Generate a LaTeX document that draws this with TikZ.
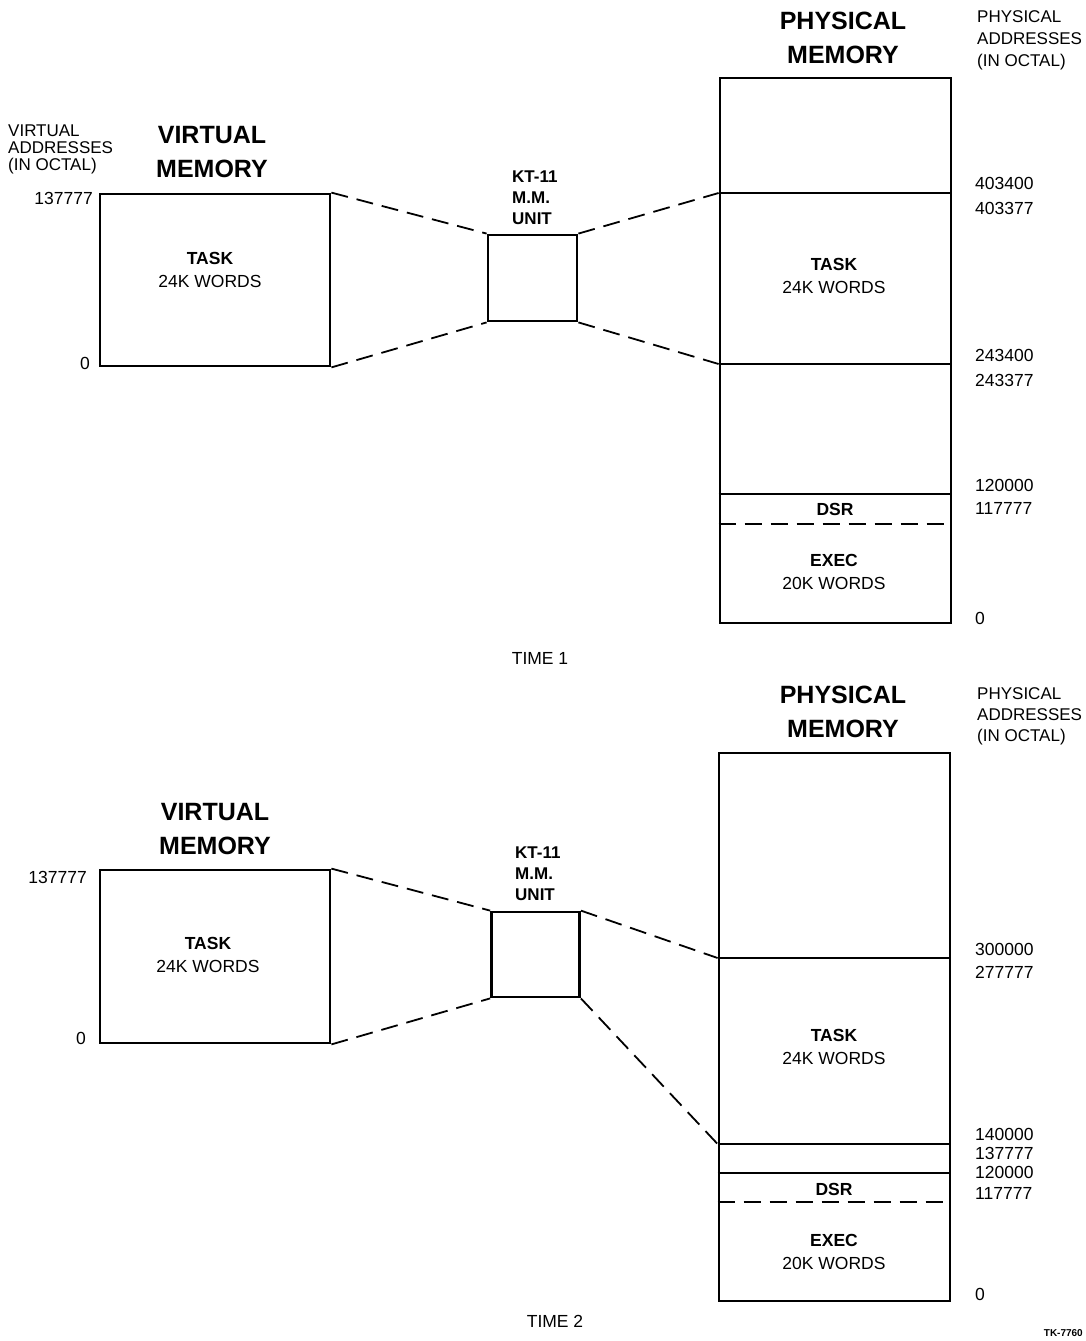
\documentclass[tikz,border=0pt]{standalone}
\usepackage{fontspec}
\setmainfont{Liberation Sans}
\usetikzlibrary{positioning}
\tikzset{
    mem/.style={draw, line width=2.8pt, inner sep=0pt},
    mmu/.style={mem, minimum width=89pt, minimum height=86pt},
    part/.style={line width=1.6pt},
    link/.style={dash pattern=on 17pt off 9pt, line width=1.8pt},
    txt/.style={font=\fontsize{17.5}{23}\selectfont, align=center, inner sep=0pt},
    addr/.style={txt, anchor=west},
    heading/.style={font=\fontsize{25}{34}\selectfont\bfseries,
                    align=center, inner sep=0pt},
}

\begin{document}
\begin{tikzpicture}[x=1pt, y=-1pt]
    \useasboundingbox (0,0) rectangle (1085,1341);

    % time 1
    \node[txt, align=left, anchor=west, font=\fontsize{17}{17}\selectfont]
        (vhead1) at (8,149) {VIRTUAL\\ADDRESSES\\(IN OCTAL)};
    \node[heading] (vtitle1) at (212,152) {VIRTUAL\\MEMORY};
    \node[mem, minimum width=230pt, minimum height=172pt] (virt1) at (215,280) {};
    \node[txt] (vtask1) at (210,270) {\textbf{TASK}\\24K WORDS};
    \node[txt, anchor=east] (vtop1) at (93,198) {137777};
    \node[txt, anchor=east] (vbot1) at (90,363) {0};

    \node[mmu] (mmu1) at (532.5,278) {};
    \node[txt, align=left, anchor=west, font=\fontsize{17}{21}\selectfont\bfseries]
        (kt1) at (512,198) {KT-11\\M.M.\\UNIT};

    \node[heading] (ptitle1) at (843,38) {PHYSICAL\\MEMORY};
    \node[txt, align=left, anchor=west, font=\fontsize{17}{22}\selectfont]
        (phead1) at (977,40) {PHYSICAL\\ADDRESSES\\(IN OCTAL)};
    \node[mem, minimum width=231pt, minimum height=545pt] (phys1) at (835.5,350.5) {};
    \path (phys1.west |- 0,193) coordinate (p1a) (phys1.east |- 0,193) coordinate (p1b)
          (phys1.west |- 0,364) coordinate (p1c) (phys1.east |- 0,364) coordinate (p1d)
          (phys1.west |- 0,494) coordinate (p1e) (phys1.east |- 0,494) coordinate (p1f)
          (phys1.west |- 0,524) coordinate (p1g) (phys1.east |- 0,524) coordinate (p1h);
    \draw[part] (p1a) -- (p1b);
    \draw[part] (p1c) -- (p1d);
    \draw[part] (p1e) -- (p1f);
    \draw[part, link, line width=1.6pt] (p1g) -- (p1h);
    \node[txt] (ptask1) at (834,276) {\textbf{TASK}\\24K WORDS};
    \node[txt] (dsr1) at (835,509) {\textbf{DSR}};
    \node[txt] (exec1) at (834,572) {\textbf{EXEC}\\20K WORDS};

    \node[addr] (a1) at (975,183) {403400};
    \node[addr] (a2) at (975,208) {403377};
    \node[addr] (a3) at (975,355) {243400};
    \node[addr] (a4) at (975,380) {243377};
    \node[addr] (a5) at (975,485) {120000};
    \node[addr] (a6) at (975,508) {117777};
    \node[addr] (a7) at (975,618) {0};

    \draw[link] (virt1.north east) -- (mmu1.north west);
    \draw[link] (virt1.south east) -- (mmu1.south west);
    \draw[link] (mmu1.north east) -- (p1a);
    \draw[link] (mmu1.south east) -- (p1c);

    \node[txt] (time1) at (540,658) {TIME 1};

    % time 2
    \node[heading] (vtitle2) at (215,829) {VIRTUAL\\MEMORY};
    \node[mem, minimum width=230pt, minimum height=173pt] (virt2) at (215,956.5) {};
    \node[txt] (vtask2) at (208,955) {\textbf{TASK}\\24K WORDS};
    \node[txt, anchor=east] (vtop2) at (87,877) {137777};
    \node[txt, anchor=east] (vbot2) at (86,1038) {0};

    \node[mmu, minimum width=88pt, minimum height=85pt] (mmu2) at (535.5,954.5) {};
    \node[txt, align=left, anchor=west, font=\fontsize{17}{21}\selectfont\bfseries]
        (kt2) at (515,874) {KT-11\\M.M.\\UNIT};

    \node[heading] (ptitle2) at (843,712) {PHYSICAL\\MEMORY};
    \node[txt, align=left, anchor=west, font=\fontsize{17}{21}\selectfont]
        (phead2) at (977,716) {PHYSICAL\\ADDRESSES\\(IN OCTAL)};
    \node[mem, minimum width=231pt, minimum height=548pt] (phys2) at (834.5,1027) {};
    \path (phys2.west |- 0,958) coordinate (p2a) (phys2.east |- 0,958) coordinate (p2b)
          (phys2.west |- 0,1144) coordinate (p2c) (phys2.east |- 0,1144) coordinate (p2d)
          (phys2.west |- 0,1173) coordinate (p2e) (phys2.east |- 0,1173) coordinate (p2f)
          (phys2.west |- 0,1202) coordinate (p2g) (phys2.east |- 0,1202) coordinate (p2h);
    \draw[part] (p2a) -- (p2b);
    \draw[part] (p2c) -- (p2d);
    \draw[part] (p2e) -- (p2f);
    \draw[part, link, line width=1.6pt] (p2g) -- (p2h);
    \node[txt] (ptask2) at (834,1047) {\textbf{TASK}\\24K WORDS};
    \node[txt] (dsr2) at (834,1189) {\textbf{DSR}};
    \node[txt] (exec2) at (834,1252) {\textbf{EXEC}\\20K WORDS};

    \node[addr] (b1) at (975,949) {300000};
    \node[addr] (b2) at (975,972) {277777};
    \node[addr] (b3) at (975,1134) {140000};
    \node[addr] (b4) at (975,1153) {137777};
    \node[addr] (b5) at (975,1172) {120000};
    \node[addr] (b6) at (975,1193) {117777};
    \node[addr] (b7) at (975,1294) {0};

    \draw[link] (virt2.north east) -- (mmu2.north west);
    \draw[link] (virt2.south east) -- (mmu2.south west);
    \draw[link] (mmu2.north east) -- (p2a);
    \draw[link] (mmu2.south east) -- (p2c);

    \node[txt] (time2) at (555,1321) {TIME 2};
    \node[anchor=east, inner sep=0pt, font=\fontsize{10}{12}\selectfont\bfseries]
        (tk) at (1083,1333) {TK-7760};
\end{tikzpicture}
\end{document}
